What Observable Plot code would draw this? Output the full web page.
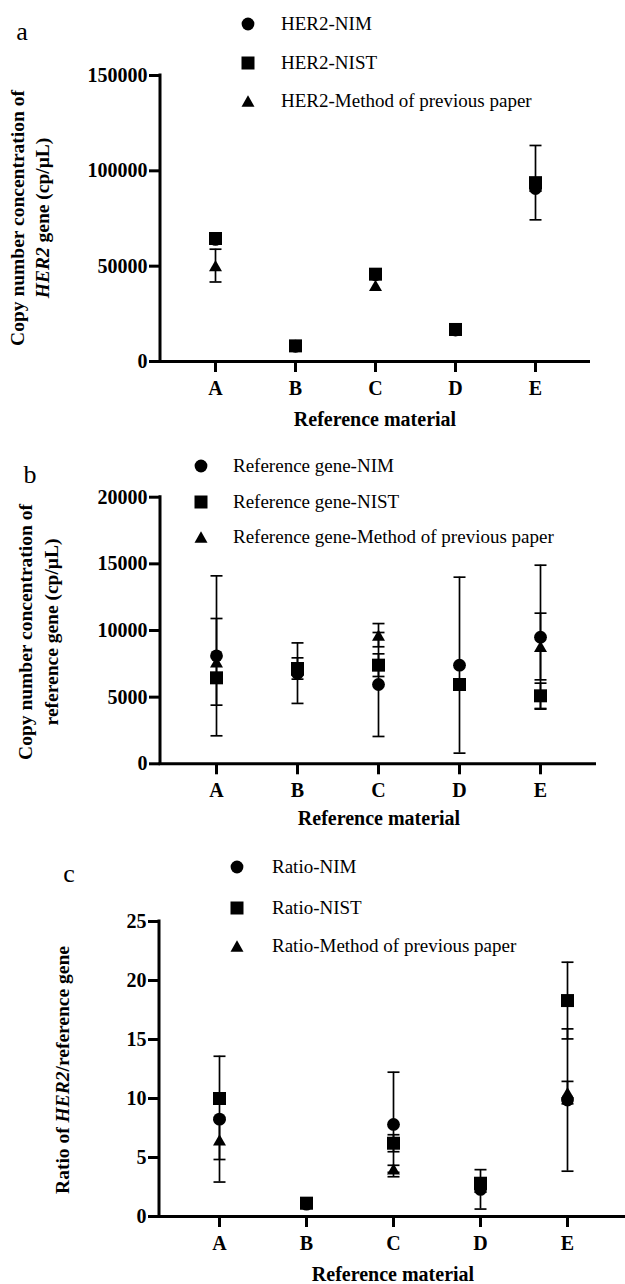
<!DOCTYPE html>
<html><head><meta charset="utf-8">
<script src="https://cdn.jsdelivr.net/npm/d3@7"></script>
<script src="https://cdn.jsdelivr.net/npm/@observablehq/plot@0.6"></script>
<style>
body{margin:0;background:#fff;}
#root{position:relative;width:625px;height:1284px;background:#fff;}
.panel{position:absolute;left:0;}
</style></head><body><div id="root"></div>
<script>
const categories = ["A", "B", "C", "D", "E"];

// Panel a: HER2 copy number concentration (cp/μL)
const her2NIM = [64000, 8000, 45500, 16500, 90700];
const her2NIMsd = [0, 0, 0, 0, 0];
const her2NIST = [64500, 8200, 45800, 16800, 93800];
const her2NISTsd = [0, 0, 0, 0, 19500];
const her2Prev = [50300, 8000, 39900, 16500, 92000];
const her2PrevSd = [8600, 0, 0, 0, 0];
const yTicksA = [0, 50000, 100000, 150000];
const legendA = ["HER2-NIM", "HER2-NIST", "HER2-Method of previous paper"];

// Panel b: reference gene copy number concentration (cp/μL)
const refNIM = [8100, 6800, 5950, 7400, 9500];
const refNIMsd = [6000, 2270, 3900, 6600, 5400];
const refNIST = [6450, 7150, 7400, 5950, 5100];
const refNISTsd = [0, 800, 850, 0, 950];
const refPrev = [7650, 7000, 9650, null, 8800];
const refPrevSd = [3250, 0, 870, 0, 2500];
const yTicksB = [0, 5000, 10000, 15000, 20000];
const legendB = ["Reference gene-NIM", "Reference gene-NIST", "Reference gene-Method of previous paper"];

// Panel c: ratio HER2 / reference gene
const ratioNIM = [8.25, 1.05, 7.8, 2.3, 9.87];
const ratioNIMsd = [5.33, 0, 4.43, 1.67, 6.03];
const ratioNIST = [10.0, 1.13, 6.21, 2.82, 18.3];
const ratioNISTsd = [0, 0, 0.72, 0, 3.25];
const ratioPrev = [6.5, 1.1, 4.04, 2.5, 10.5];
const ratioPrevSd = [1.67, 0, 0.3, 0, 0.95];
const yTicksC = [0, 5, 10, 15, 20, 25];
const legendC = ["Ratio-NIM", "Ratio-NIST", "Ratio-Method of previous paper"];

const xTitle = "Reference material";

// symbols
const circleSym = {draw(ctx) { ctx.moveTo(6.4, 0); ctx.arc(0, 0, 6.4, 0, 2 * Math.PI); }};
const squareSym = {draw(ctx) { ctx.rect(-6.5, -6.5, 13, 13); }};
const triSym = {draw(ctx) { const a = 13, h = a * Math.sqrt(3) / 2; ctx.moveTo(0, -h / 2); ctx.lineTo(a / 2, h / 2); ctx.lineTo(-a / 2, h / 2); ctx.closePath(); }};
const capSym = {draw(ctx) { ctx.moveTo(-6, 0); ctx.lineTo(6, 0); }};
const symbols = {nim: circleSym, nist: squareSym, prev: triSym};
const kinds = ["nim", "nist", "prev"];

const SERIF = "'Liberation Serif','Times New Roman',serif";

function makePanel(cfg) {
  const rows = [];
  cfg.series.forEach(s => s.values.forEach((v, i) => {
    if (v != null) rows.push({cat: categories[i], v, sd: s.sd[i], kind: s.kind});
  }));
  const bars = rows.filter(d => d.sd > 0);
  const plot = Plot.plot({
    width: 625,
    height: cfg.height,
    marginLeft: cfg.marginLeft,
    marginRight: cfg.marginRight,
    marginTop: cfg.marginTop,
    marginBottom: cfg.marginBottom,
    style: {fontFamily: SERIF, fontSize: cfg.tickFont + "px", fontWeight: "bold", color: "black", background: "white", overflow: "visible"},
    x: {type: "point", domain: categories, range: cfg.xRange, padding: 0},
    y: {domain: cfg.yDomain},
    marks: [
      Plot.ruleY([0], {strokeWidth: 3, insetLeft: -1.5}),
      Plot.axisY({ticks: cfg.yTicks, tickSize: 11, tickPadding: 2, strokeWidth: 3, tickFormat: d => String(d), label: null}),
      Plot.axisX({tickSize: 11, tickPadding: 8, strokeWidth: 3, label: null}),
      Plot.ruleX(bars, {x: "cat", y1: d => d.v - d.sd, y2: d => d.v + d.sd, stroke: "black", strokeWidth: 1.7}),
      Plot.dot(bars, {x: "cat", y: d => d.v + d.sd, symbol: capSym, r: 5, stroke: "black", fill: "none", strokeWidth: 1.7}),
      Plot.dot(bars, {x: "cat", y: d => d.v - d.sd, symbol: capSym, r: 5, stroke: "black", fill: "none", strokeWidth: 1.7}),
      ...["prev", "nim", "nist"].map(k => Plot.dot(rows.filter(d => d.kind === k), {x: "cat", y: "v", symbol: symbols[k], r: 5, fill: "black", stroke: "none"}))
    ]
  });
  const svg = d3.select(plot);
  const y = plot.scale("y");
  svg.append("line")
    .attr("x1", cfg.marginLeft).attr("x2", cfg.marginLeft)
    .attr("y1", y.apply(0) + 1.5).attr("y2", y.apply(cfg.yDomain[1]) - 1.5)
    .attr("stroke", "black").attr("stroke-width", 3);
  // panel letter
  svg.append("text").attr("x", cfg.letter.x).attr("y", cfg.letter.y).attr("dy", "0.25em")
    .attr("text-anchor", "middle").style("font-family", SERIF).style("font-weight", "normal")
    .style("font-size", "26px").attr("fill", "black").text(cfg.letter.t);
  // legend
  cfg.legend.forEach((lab, i) => {
    svg.append("path").attr("d", d3.symbol(symbols[kinds[i]])())
      .attr("transform", `translate(${cfg.legendX},${cfg.legendY[i]})`).attr("fill", "black");
    svg.append("text").attr("x", cfg.legendTextX).attr("y", cfg.legendY[i]).attr("dy", "0.33em")
      .attr("text-anchor", "start")
      .style("font-family", SERIF).style("font-weight", "normal").style("font-size", cfg.legendFont + "px")
      .attr("fill", "black").text(lab);
  });
  // x title
  svg.append("text").attr("x", cfg.xTitle.x).attr("y", cfg.xTitle.y).attr("dy", "0.33em")
    .attr("text-anchor", "middle").style("font-family", SERIF).style("font-weight", "bold")
    .style("font-size", "20px").attr("fill", "black").text(xTitle);
  // y title
  cfg.yTitle.lines.forEach(line => {
    const t = svg.append("text")
      .attr("transform", `translate(${line.x},${cfg.yTitle.cy}) rotate(-90)`).attr("dy", "0.33em")
      .attr("text-anchor", "middle").style("font-family", SERIF).style("font-weight", "bold")
      .style("font-size", cfg.yTitle.font + "px").attr("fill", "black");
    line.parts.forEach(p => t.append("tspan").style("font-style", p.i ? "italic" : "normal").text(p.t));
  });
  const div = document.createElement("div");
  div.className = "panel";
  div.style.top = cfg.top + "px";
  div.appendChild(plot);
  document.getElementById("root").appendChild(div);
}

makePanel({
  top: 0, height: 440, marginLeft: 160, marginRight: 35, marginTop: 75, marginBottom: 79,
  xRange: [214, 536], yDomain: [0, 150000], yTicks: yTicksA, tickFont: 20,
  series: [
    {kind: "nim", values: her2NIM, sd: her2NIMsd},
    {kind: "nist", values: her2NIST, sd: her2NISTsd},
    {kind: "prev", values: her2Prev, sd: her2PrevSd}
  ],
  letter: {t: "a", x: 22, y: 33},
  legend: legendA, legendX: 248, legendTextX: 281, legendY: [24, 63, 101], legendFont: 19,
  xTitle: {x: 375, y: 419},
  yTitle: {cy: 218, font: 19.5, lines: [
    {x: 18, parts: [{t: "Copy number concentration of"}]},
    {x: 43, parts: [{t: "HER2", i: true}, {t: " gene (cp/μL)"}]}
  ]}
});

makePanel({
  top: 440, height: 400, marginLeft: 160, marginRight: 29, marginTop: 56.7, marginBottom: 76.7,
  xRange: [215, 540], yDomain: [0, 20000], yTicks: yTicksB, tickFont: 20,
  series: [
    {kind: "nim", values: refNIM, sd: refNIMsd},
    {kind: "nist", values: refNIST, sd: refNISTsd},
    {kind: "prev", values: refPrev, sd: refPrevSd}
  ],
  letter: {t: "b", x: 30, y: 36},
  legend: legendB, legendX: 201, legendTextX: 233, legendY: [26, 62, 97], legendFont: 19,
  xTitle: {x: 379, y: 378},
  yTitle: {cy: 192, font: 19.5, lines: [
    {x: 26, parts: [{t: "Copy number concentration of"}]},
    {x: 52, parts: [{t: "reference gene (cp/μL)"}]}
  ]}
});

makePanel({
  top: 840, height: 444, marginLeft: 159, marginRight: 0, marginTop: 81, marginBottom: 68,
  xRange: [217.7, 567.7], yDomain: [0, 25], yTicks: yTicksC, tickFont: 20,
  series: [
    {kind: "nim", values: ratioNIM, sd: ratioNIMsd},
    {kind: "nist", values: ratioNIST, sd: ratioNISTsd},
    {kind: "prev", values: ratioPrev, sd: ratioPrevSd}
  ],
  letter: {t: "c", x: 69, y: 35},
  legend: legendC, legendX: 237, legendTextX: 272, legendY: [27, 68, 106], legendFont: 19,
  xTitle: {x: 393, y: 434},
  yTitle: {cy: 230, font: 19.5, lines: [
    {x: 63, parts: [{t: "Ratio of "}, {t: "HER2", i: true}, {t: "/reference gene"}]}
  ]}
});
</script></body></html>
